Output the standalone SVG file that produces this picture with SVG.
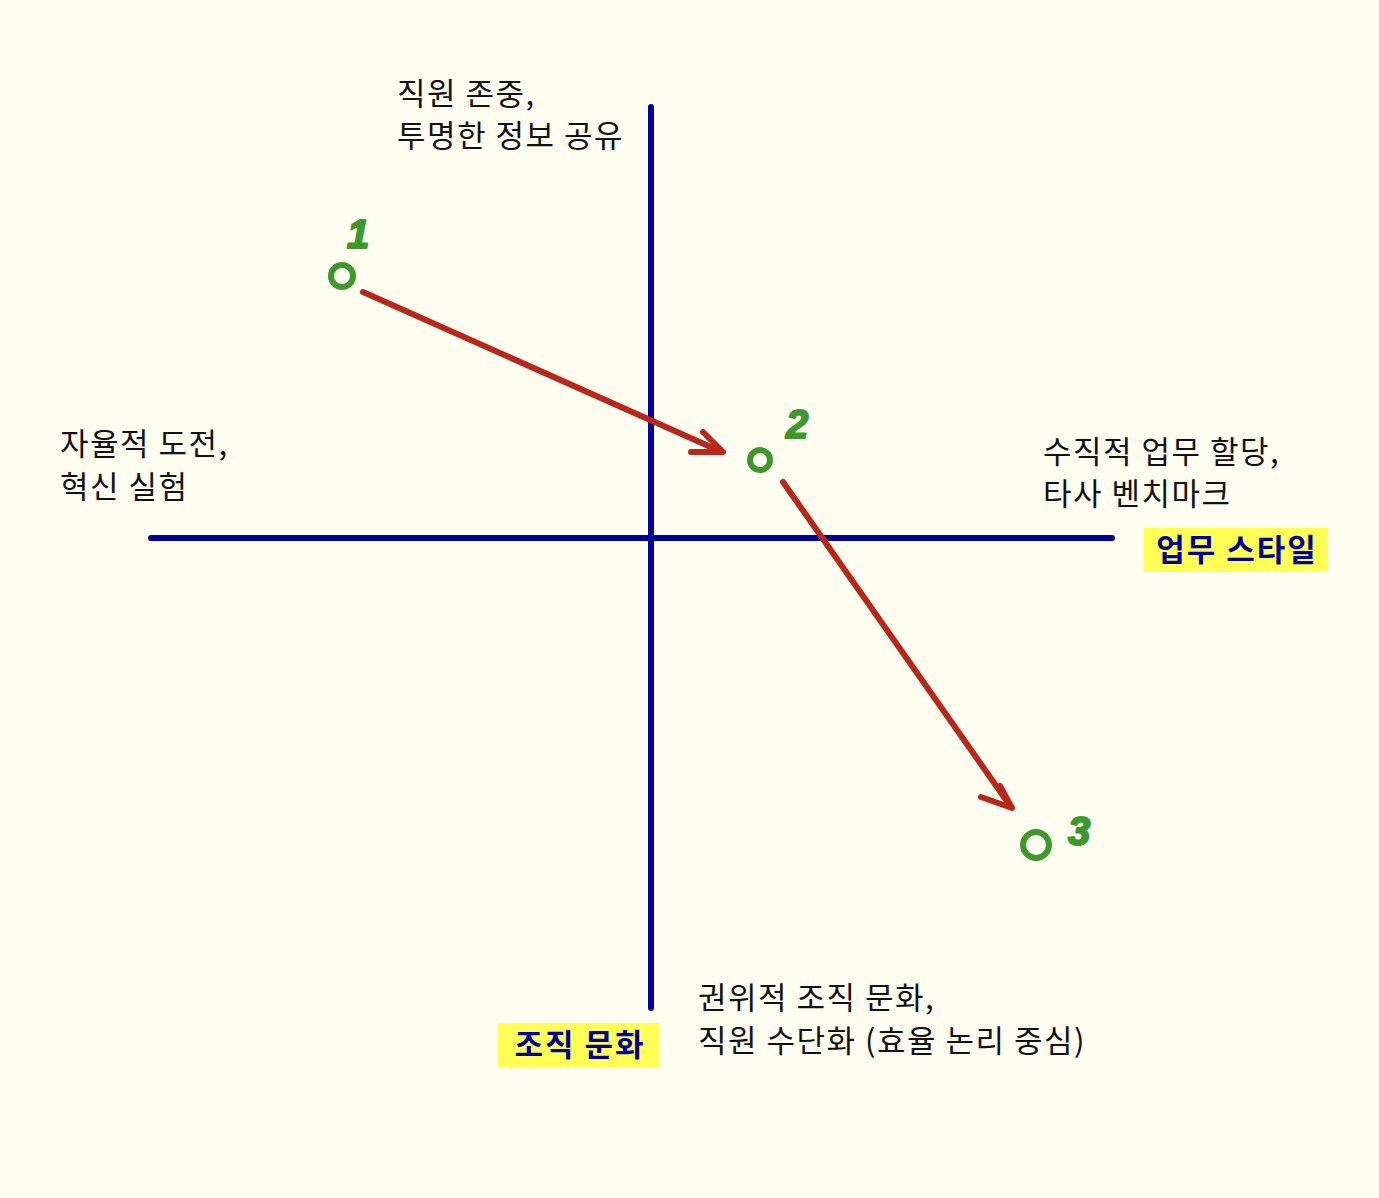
<svg xmlns="http://www.w3.org/2000/svg" width="1379" height="1198" viewBox="0 0 1379 1198">
<style>
.lbl{font-family:"Noto Sans CJK KR","Noto Sans",sans-serif;font-size:31px;letter-spacing:1.5px;fill:#111}
.axl{font-family:"Noto Sans CJK KR","Noto Sans",sans-serif;font-size:31px;letter-spacing:2px;font-weight:bold;fill:#00009a}
.hl{fill:#ffff55}
.axis{stroke:#00009a;stroke-width:6;stroke-linecap:round;fill:none}
.arr{stroke:#b8271c;stroke-width:6;stroke-linecap:round;stroke-linejoin:round;fill:none}
.pt{stroke:#3f982c;stroke-width:6;fill:none}
.num{font-family:"Liberation Sans",sans-serif;font-size:40px;font-weight:bold;font-style:italic;fill:#3f982c;stroke:#3f982c;stroke-width:2;stroke-linejoin:round}
</style>
<rect width="1379" height="1198" fill="#fffdf0"/>
<g id="axes">
<line class="axis" x1="151" y1="538" x2="1112" y2="538"/>
<line class="axis" x1="651" y1="107" x2="651" y2="1008"/>
</g>
<g id="label-top">
<text class="lbl" x="397" y="105">직원 존중,</text>
<text class="lbl" x="397" y="147">투명한 정보 공유</text>
</g>
<g id="label-left">
<text class="lbl" x="60" y="455">자율적 도전,</text>
<text class="lbl" x="60" y="498">혁신 실험</text>
</g>
<g id="label-right">
<text class="lbl" x="1043" y="463">수직적 업무 할당,</text>
<text class="lbl" x="1043" y="505">타사 벤치마크</text>
</g>
<g id="label-bottom">
<text class="lbl" x="698" y="1009">권위적 조직 문화,</text>
<text class="lbl" x="698" y="1052">직원 수단화 (효율 논리 중심)</text>
</g>
<g id="axis-x-label">
<rect class="hl" x="1144" y="528" width="184" height="44"/>
<text class="axl" x="1237" y="561" text-anchor="middle">업무 스타일</text>
</g>
<g id="axis-y-label">
<rect class="hl" x="498" y="1023" width="162" height="44"/>
<text class="axl" x="580" y="1056" text-anchor="middle">조직 문화</text>
</g>
<g id="point-1">
<circle class="pt" cx="342" cy="276" r="11"/>
<text class="num" x="347" y="248">1</text>
</g>
<g id="point-2">
<circle class="pt" cx="760" cy="460" r="10"/>
<text class="num" x="786" y="438">2</text>
</g>
<g id="point-3">
<circle class="pt" cx="1036" cy="845" r="13"/>
<text class="num" x="1068" y="845">3</text>
</g>
<g id="connectors">
<path class="arr" d="M363 292 L722 452"/>
<path class="arr" d="M703 432 L723 452 L691 452"/>
<path class="arr" d="M783 482 L1011 807"/>
<path class="arr" d="M1000 786 L1012 808 L981 797"/>
</g>
</svg>
